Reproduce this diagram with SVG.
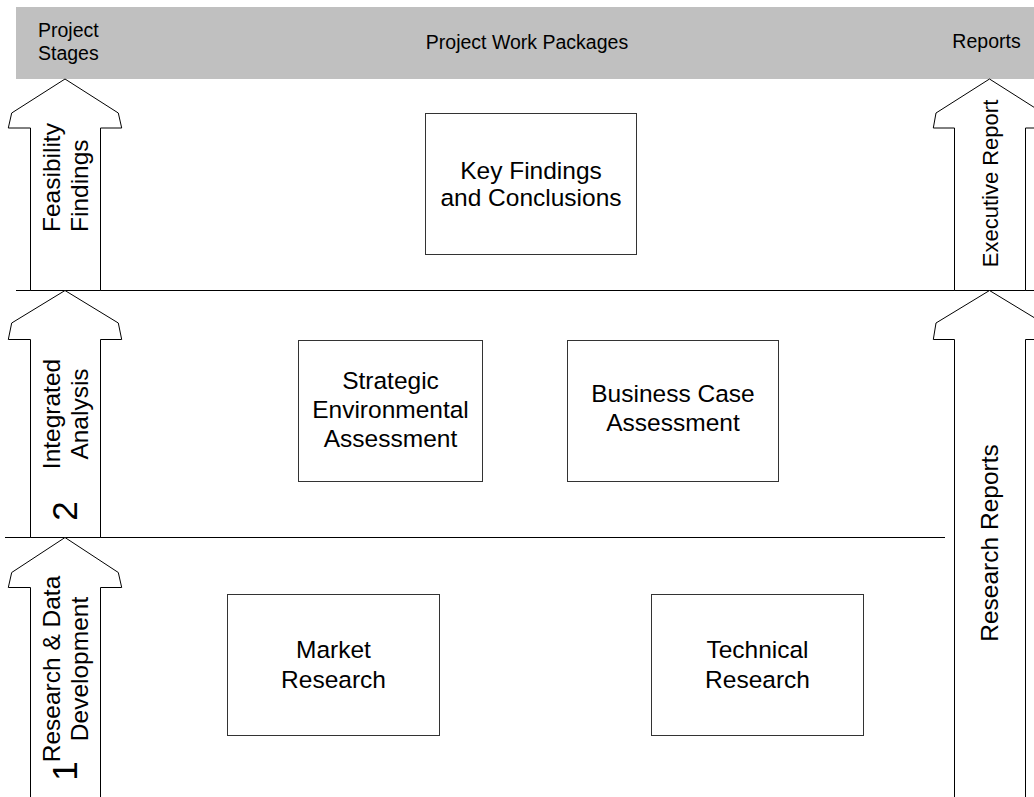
<svg xmlns="http://www.w3.org/2000/svg" width="1034" height="797" viewBox="0 0 1034 797">
<style>
text{font-family:"Liberation Sans",Arial,sans-serif;fill:#000}
.hdr{font-size:19.5px}
.box{fill:#fff;stroke:#333;stroke-width:1}
.bt{font-size:24.5px;text-anchor:middle}
.arrow{fill:#fff;stroke:#000;stroke-width:1}
.rt{font-size:24.5px}
.ln{stroke:#000;stroke-width:1;fill:none}
</style>
<rect width="1034" height="797" fill="#fff"/>
<g id="header">
<rect x="16" y="7" width="1018" height="72" fill="#c0c0c0"/>
<text class="hdr" x="38" y="37">Project</text>
<text class="hdr" x="38" y="60">Stages</text>
<text class="hdr" x="527" y="49" text-anchor="middle">Project Work Packages</text>
<text class="hdr" x="986.5" y="48" text-anchor="middle">Reports</text>
</g>
<g id="connectors">
<line class="ln" x1="16" y1="290.5" x2="1034" y2="290.5"/>
<line class="ln" x1="5" y1="537.5" x2="945" y2="537.5"/>
</g>
<g id="stage3">
<path class="arrow" d="M65,79 L11.7,113 L8.3,128 L30.5,128 L30.5,290.5 L100.5,290.5 L100.5,128 L121.7,128 L118.3,113 Z"/>
<text class="rt" transform="translate(60,232) rotate(-90)">Feasibility</text>
<text class="rt" transform="translate(88,232) rotate(-90)">Findings</text>
</g>
<g id="stage2">
<path class="arrow" d="M65,290.5 L11.7,323 L8.3,339.5 L30.5,339.5 L30.5,537.5 L100.5,537.5 L100.5,339.5 L121.7,339.5 L118.3,323 Z"/>
<text class="rt" text-anchor="middle" transform="translate(60,414) rotate(-90)">Integrated</text>
<text class="rt" text-anchor="middle" transform="translate(88,414) rotate(-90)">Analysis</text>
<text font-size="35" text-anchor="middle" transform="translate(77,511) rotate(-90)">2</text>
</g>
<g id="stage1">
<path class="arrow" d="M65,537.5 L11.7,572.5 L8.3,587.5 L30.5,587.5 L30.5,800 L100.5,800 L100.5,587.5 L121.7,587.5 L118.3,572.5 Z"/>
<text class="rt" text-anchor="middle" transform="translate(60,669) rotate(-90)">Research &amp; Data</text>
<text class="rt" text-anchor="middle" transform="translate(88,669) rotate(-90)">Development</text>
<text font-size="35" text-anchor="middle" transform="translate(77,771) rotate(-90)">1</text>
</g>
<g id="executive-report">
<path class="arrow" d="M989.5,79 L936,113 L933.3,128 L954.5,128 L954.5,290.5 L1025.5,290.5 L1025.5,128 L1046,128 L1043,113 Z"/>
<text class="rt" font-size="22" text-anchor="middle" style="font-size:22px" transform="translate(998,183.5) rotate(-90)">Executive Report</text>
</g>
<g id="research-reports">
<path class="arrow" d="M989.5,290.5 L936,323 L933.3,339.5 L954.5,339.5 L954.5,800 L1025.5,800 L1025.5,339.5 L1046,339.5 L1043,323 Z"/>
<text class="rt" text-anchor="middle" transform="translate(998,543) rotate(-90)">Research Reports</text>
</g>
<g id="key-findings">
<rect class="box" x="425.5" y="113.5" width="211" height="141"/>
<text class="bt" x="531" y="179">Key Findings</text>
<text class="bt" x="531" y="206">and Conclusions</text>
</g>
<g id="strategic-environmental">
<rect class="box" x="298.5" y="340.5" width="184" height="141"/>
<text class="bt" x="390.5" y="389">Strategic</text>
<text class="bt" x="390.5" y="418">Environmental</text>
<text class="bt" x="390.5" y="447">Assessment</text>
</g>
<g id="business-case">
<rect class="box" x="567.5" y="340.5" width="211" height="141"/>
<text class="bt" x="673" y="402">Business Case</text>
<text class="bt" x="673" y="431">Assessment</text>
</g>
<g id="market-research">
<rect class="box" x="227.5" y="594.5" width="212" height="141"/>
<text class="bt" x="333.5" y="658">Market</text>
<text class="bt" x="333.5" y="688">Research</text>
</g>
<g id="technical-research">
<rect class="box" x="651.5" y="594.5" width="212" height="141"/>
<text class="bt" x="757.5" y="658">Technical</text>
<text class="bt" x="757.5" y="688">Research</text>
</g>
</svg>
